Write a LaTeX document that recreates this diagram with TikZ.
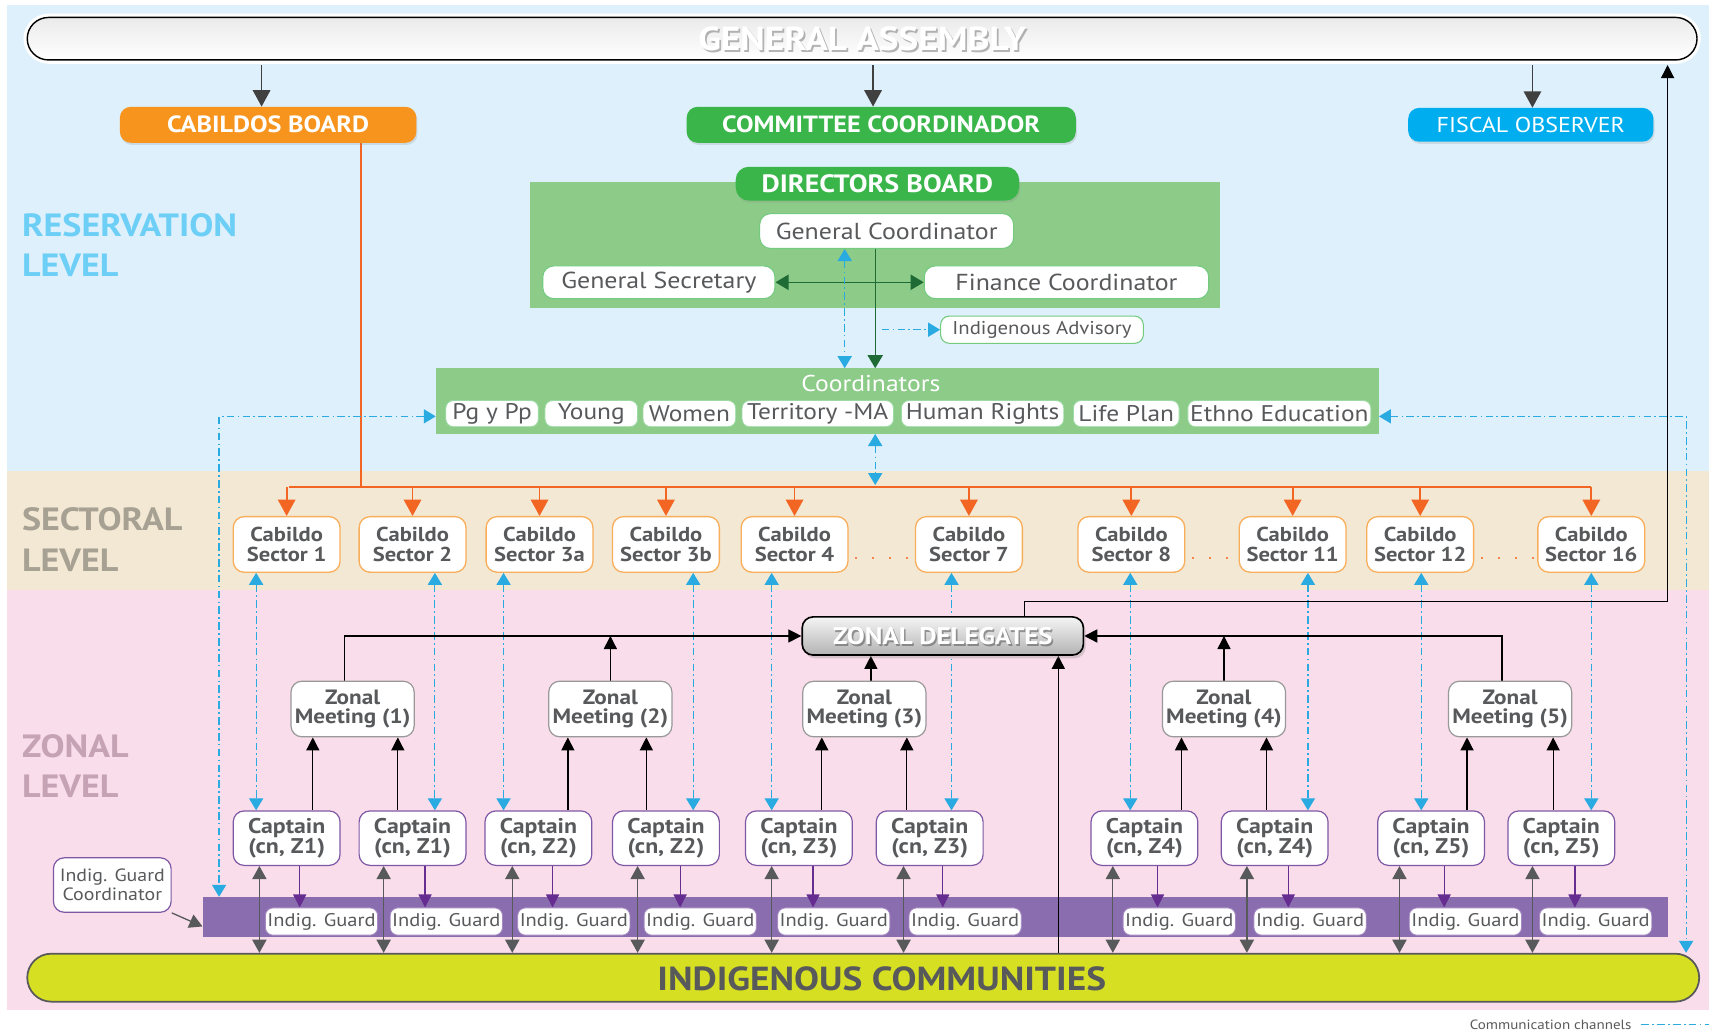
\documentclass[tikz,border=0pt]{standalone}
\usepackage{fontspec}
\setmainfont{PT Sans}[FakeStretch=1.12]
\usetikzlibrary{arrows.meta,shadows}
\pgfdeclarelayer{bg}
\pgfdeclarelayer{conn}
\pgfsetlayers{bg,conn,main}
\newcommand\FS[1]{\fontsize{#1}{#1}\selectfont}
\definecolor{bgblue}{HTML}{DDF0FB}
\definecolor{bgtan}{HTML}{F3E8D3}
\definecolor{bgpink}{HTML}{F9DDEA}
\definecolor{txtgray}{HTML}{58595B}
\definecolor{orangeB}{HTML}{F7941D}
\definecolor{greenB}{HTML}{39B54A}
\definecolor{cyanB}{HTML}{00AEEF}
\definecolor{panelgreen}{HTML}{8DCB89}
\definecolor{darkgreen}{HTML}{1E6B35}
\definecolor{commc}{HTML}{29ABE2}
\definecolor{orangeL}{HTML}{F26522}
\definecolor{cabborder}{HTML}{F9AE5B}
\definecolor{purpleB}{HTML}{7E57A5}
\definecolor{purplebar}{HTML}{8A6DAF}
\definecolor{purpleA}{HTML}{662D91}
\definecolor{yellowG}{HTML}{D7DF23}
\definecolor{resblue}{HTML}{6DCFF6}
\definecolor{sectan}{HTML}{A7A194}
\definecolor{zonpink}{HTML}{C5A3B5}
\definecolor{arrgray}{HTML}{404041}
\definecolor{dgray}{HTML}{58595B}
\begin{document}
\begin{tikzpicture}[x=1pt,y=-1pt,
  every node/.style={inner sep=0pt},
  board/.style={rounded corners=10pt,text=white,font=\bfseries\FS{21.5},
    drop shadow={opacity=0.2,shadow xshift=1pt,shadow yshift=-2pt}},
  dbox/.style={draw=greenB!70,line width=1pt,fill=white,rounded corners=10pt,
    text=txtgray,font=\FS{21.2}},
  cbox/.style={draw=greenB!50,line width=0.8pt,fill=white,rounded corners=7pt,
    text=txtgray,font=\FS{20.8},minimum height=24},
  cab/.style={draw=cabborder,line width=1.2pt,fill=white,rounded corners=10pt,
    minimum width=98,minimum height=51,font=\bfseries\fontsize{18.5}{18}\selectfont,
    text=txtgray,align=center},
  capt/.style={draw=purpleB,line width=1.1pt,fill=white,rounded corners=10pt,
    minimum width=98,minimum height=50,font=\bfseries\fontsize{19.5}{18}\selectfont,
    text=txtgray,align=center},
  zm/.style={draw=gray!80,line width=1.1pt,fill=white,rounded corners=10pt,
    minimum width=113,minimum height=51,font=\bfseries\fontsize{19}{18}\selectfont,
    text=txtgray,align=center},
  ig/.style={draw=purpleB!70,line width=0.8pt,fill=white,rounded corners=7pt,
    minimum width=103,minimum height=25,font=\FS{16.8},text=txtgray},
  lvl/.style={anchor=west,align=left,font=\bfseries\fontsize{29.5}{37}\selectfont},
  commline/.style={draw=commc,line width=1.1pt,dash pattern=on 7pt off 3pt on 1.5pt off 3pt,
    >={Triangle[length=11pt,width=13pt]}},
  garr/.style={draw=arrgray,line width=1.4pt,>={Triangle[length=15pt,width=16pt]}},
  orl/.style={draw=orangeL,line width=1.6pt,>={Triangle[length=15pt,width=16pt]}},
  blk/.style={draw=black,line width=1.2pt,>={Triangle[length=12pt,width=12pt]}},
  grn/.style={draw=darkgreen,line width=1.3pt,>={Triangle[length=12pt,width=14pt]}},
  pur/.style={draw=purpleA,line width=1.1pt,>={Triangle[length=12pt,width=12pt]}},
  gry/.style={draw=dgray,line width=1.2pt,>={Triangle[length=12pt,width=13pt]}},
  shtext/.style={text=gray!75!black,opacity=0.45}
]
\useasboundingbox (0,0) rectangle (1568,947);

% ---------- backgrounds and panels ----------
\begin{pgfonlayer}{bg}
\fill[bgblue] (6,5) rectangle (1568,432);
\fill[bgtan] (6,432) rectangle (1568,541);
\fill[bgpink] (6,541) rectangle (1568,927);
\node[fill=panelgreen,minimum width=633,minimum height=116] (DP) at (802.5,225) {};
\node[fill=panelgreen,minimum width=865,minimum height=60] (CP) at (832.5,368) {};
\node[fill=purplebar,minimum width=1344,minimum height=37] (PB) at (858,841.5) {};
\end{pgfonlayer}

% ---------- level labels ----------
\node[lvl,text=resblue] at (20,225) {RESERVATION\\LEVEL};
\node[lvl,text=sectan] at (20,495) {SECTORAL\\LEVEL};
\node[lvl,text=zonpink] at (20,703) {ZONAL\\LEVEL};

% ---------- top ----------
\node[draw=black,line width=1.3pt,rounded corners=19.5pt,top color=gray!16,bottom color=white,
  preaction={draw=white,line width=7pt},minimum width=1532,minimum height=39] (GA) at (791,35.5) {};
\node[shtext,font=\bfseries\FS{30.5}] at ([shift={(1.6,1.6)}]GA.center) {GENERAL ASSEMBLY};
\node[text=white,font=\bfseries\FS{30.5}] at (GA.center) {GENERAL ASSEMBLY};

\node[board,fill=orangeB,minimum width=272,minimum height=33] (CB) at (246,114.5) {CABILDOS BOARD};
\node[board,fill=greenB,minimum width=357,minimum height=33] (CC) at (808.5,114.5) {COMMITTEE COORDINADOR};
\node[board,fill=cyanB,font=\FS{19.7},minimum width=225,minimum height=31] (FO) at (1404.5,114.5) {FISCAL OBSERVER};

% ---------- directors board ----------
\node[board,fill=greenB,rounded corners=12pt,font=\bfseries\FS{23},minimum width=260,minimum height=31] (DB) at (805,168.5) {DIRECTORS BOARD};
\node[dbox,minimum width=233,minimum height=32] (GC) at (813.5,212) {General Coordinator};
\node[dbox,minimum width=213,minimum height=30] (GS) at (604.5,259) {General Secretary};
\node[dbox,minimum width=261,minimum height=30] (FC) at (978.5,259) {Finance Coordinator};
\node[dbox,font=\FS{17},rounded corners=8pt,minimum width=186,minimum height=25] (IA) at (956,302.5) {Indigenous Advisory};

% ---------- coordinators ----------
\node[text=white,font=\FS{21}] (CPt) at (799,352) {Coordinators};
\node[cbox,minimum width=85] (K1) at (451.5,379.5) {Pg y Pp};
\node[cbox,minimum width=85] (K2) at (542.5,379.5) {Young};
\node[cbox,minimum width=85] (K3) at (632.5,379.5) {Women};
\node[cbox,minimum width=139] (K4) at (750.3,379.5) {Territory -MA};
\node[cbox,minimum width=149] (K5) at (901.5,379.5) {Human Rights};
\node[cbox,minimum width=97] (K6) at (1033.3,379.5) {Life Plan};
\node[cbox,minimum width=168] (K7) at (1173.8,379.5) {Ethno Education};

% ---------- cabildos ----------
\foreach \n/\x in {1/263,2/378.5,3a/495,3b/611,4/729,7/889,8/1038,11/1186,12/1303,16/1460}
  \node[cab] (Cab\n) at (\x,499.5) {Cabildo\\Sector \n};

% ---------- zonal ----------
\node[draw=black,line width=1.5pt,rounded corners=10pt,top color=gray!8,bottom color=gray!60,
  drop shadow={opacity=0.3,shadow xshift=2pt,shadow yshift=-3pt},
  minimum width=258,minimum height=35] (ZD) at (865,583.5) {};
\node[shtext,opacity=0.6,font=\bfseries\FS{22}] at ([shift={(1.5,1.5)}]ZD.center) {ZONAL DELEGATES};
\node[text=white,font=\bfseries\FS{22}] at (ZD.center) {ZONAL DELEGATES};

\foreach \n/\x in {1/323.5,2/560,3/793,4/1123,5/1385.5}
  \node[zm] (ZM\n) at (\x,650.5) {Zonal\\Meeting (\n)};

\foreach \n/\x/\z in {1/263/1,2/378.5/1,3/494/2,4/611/2,5/733/3,6/853/3,7/1050/4,8/1169.5/4,9/1313/5,10/1432.5/5}
  \node[capt] (Cap\n) at (\x,769) {Captain\\(cn, Z\z)};

\node[draw=purpleB,line width=1.1pt,fill=white,rounded corners=10pt,minimum width=108,minimum height=50,
  font=\fontsize{16.3}{17}\selectfont,text=txtgray,align=center] (IGC) at (103,812) {Indig. Guard\\Coordinator};

\foreach \n/\x in {1/295,2/409.5,3/526.5,4/642.5,5/765,6/885.5,7/1082,8/1202,9/1344.5,10/1464}
  \node[ig] (IG\n) at (\x,845.5) {Indig. Guard};

\node[fill=yellowG,draw=dgray,line width=1.6pt,rounded corners=22pt,
  minimum width=1534,minimum height=44] (IC) at (792,897) {};
\node[text=dgray,font=\bfseries\FS{30.6}] (ICt) at (809,898) {INDIGENOUS COMMUNITIES};

% legend
\node[font=\FS{12.3},text=txtgray,anchor=east] (LEG) at (1497,940) {Communication channels};
\coordinate (legA) at (1506,940);
\coordinate (legB) at (1568,940);

% ---------- connectors ----------
\begin{pgfonlayer}{conn}
% general assembly
\foreach \x/\t in {240/CB,801/CC,1406/FO}
  \draw[garr,->,shorten <=4pt] (GA.south -| \x,0) -- (\t.north -| \x,0);
% cabildos board tree
\coordinate (oL) at (265,447);
\coordinate (oR) at (1460,447);
\coordinate (oM) at (331,447);
\draw[orl] (CB.south -| oM) -- (oM);
\draw[orl] (oL) -- (oR);
\foreach \n in {1,2,3a,3b,4,7,8,11,12,16}
  \draw[orl,->] (Cab\n.north |- oL) -- (Cab\n.north);
% dots between cabildos
\foreach \a/\b in {4/7,8/11,12/16}
  \draw[orangeL!80,line width=1.6pt,dash pattern=on 1.6pt off 14pt] ([xshift=6pt]Cab\a.east |- 0,512) -- (Cab\b.west |- 0,512);
% directors board
\draw[grn,<->] (GS.east) -- (FC.west);
\draw[grn,->] (GC.south -| 803,0) -- (CP.north -| 803,0);
\draw[commline,<->] (GC.south -| 775,0) -- (CP.north -| 775,0);
\coordinate (iaS) at (809,302.5);
\draw[commline,->] (iaS) -- (IA.west);
\coordinate (cpB) at (803,445);
\draw[commline,<->] (CP.south -| cpB) -- (cpB);
% side communication channels
\coordinate (lc) at (201,382);
\coordinate (rc) at (1547,382);
\draw[commline,<->] (CP.west |- lc) -- (lc) -- (PB.north -| lc);
\draw[commline,<->] (CP.east |- rc) -- (rc) -- (IC.north -| rc);
% cabildo <-> captain
\foreach \a/\b/\x in {1/1/235,2/2/399,3a/3/462,3b/4/636,4/5/708,7/6/873,8/7/1037,11/8/1200,12/9/1304,16/10/1460}
  \draw[commline,<->] (Cab\a.south -| \x,0) -- (Cap\b.north -| \x,0);
% captain -> zonal meeting
\foreach \c/\m/\x in {1/1/287,2/1/365,3/2/521,4/2/593,5/3/754,6/3/832,7/4/1084,8/4/1162,9/5/1346,10/5/1425}
  \draw[blk,->] (Cap\c.north -| \x,0) -- (ZM\m.south -| \x,0);
% zonal meeting -> zonal delegates
\coordinate (z1) at (316,583.5);
\coordinate (z5) at (1378,583.5);
\draw[blk,->] (ZM1.north -| z1) -- (z1) -- (ZD.west);
\draw[blk,->] (ZM2.north) -- (ZM2.north |- z1);
\draw[blk,->] (ZM3.north -| 799,0) -- (ZD.south -| 799,0);
\draw[blk,->] (ZM4.north) -- (ZM4.north |- z5);
\draw[blk,->] (ZM5.north -| z5) -- (z5) -- (ZD.east);
\draw[blk,->] (IC.north -| 971,0) -- (ZD.south -| 971,0);
% zonal delegates -> general assembly
\coordinate (u1) at (940,552);
\coordinate (u2) at (1530,552);
\draw[blk,->,shorten >=4pt] (ZD.north -| u1) -- (u1) -- (u2) -- (GA.south -| u2);
% captain -> indig guard
\foreach \c/\x in {1/275,2/390,3/507,4/624,5/746,6/865,7/1062,8/1182,9/1325,10/1445}
  \draw[pur,->] (Cap\c.south -| \x,0) -- (IG\c.north -| \x,0);
% captain <-> communities
\foreach \c/\x in {1/238,2/352,3/470,4/585,5/708,6/829,7/1021,8/1144,9/1284,10/1406}
  \draw[gry,<->] (Cap\c.south -| \x,0) -- (IC.north -| \x,0);
% guard coordinator
\draw[gry,->] (IGC.south east) -- (PB.west |- 0,850);
% legend line
\draw[commline] (legA) -- (legB);
\end{pgfonlayer}
\end{tikzpicture}
\end{document}
